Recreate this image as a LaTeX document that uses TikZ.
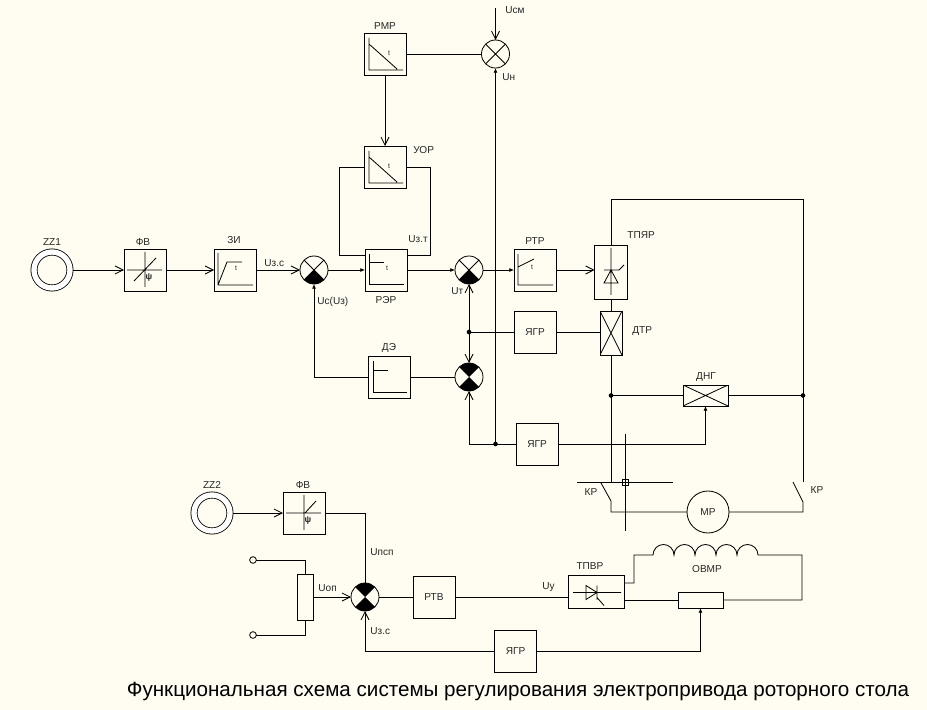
\documentclass[tikz,border=0pt]{standalone}
\usepackage{fontspec}
\setmainfont{Liberation Sans}
\usetikzlibrary{arrows.meta,positioning}
\definecolor{paper}{HTML}{FFFDF2}
\tikzset{
  inbox/.style={shift={(path picture bounding box.center)}},
  smalltxt/.style={font=\fontsize{6}{7}\selectfont,inner sep=0pt},
  lbl/.style={font=\fontsize{8.6}{10}\selectfont,inner sep=0pt,text=black!85},
  unitbox/.style={draw,minimum width=1.26cm,minimum height=1.26cm,inner sep=0pt,outer sep=0pt,
      font=\fontsize{8.6}{10}\selectfont,text=black!85},
  sumnode/.style={circle,draw,minimum size=0.84cm,inner sep=0pt,outer sep=0pt,path picture={
      \draw (path picture bounding box.north west) -- (path picture bounding box.south east)
            (path picture bounding box.north east) -- (path picture bounding box.south west);}},
  sumlow/.style={circle,draw,minimum size=0.84cm,inner sep=0pt,outer sep=0pt,path picture={
      \draw (path picture bounding box.north west) -- (path picture bounding box.south east)
            (path picture bounding box.north east) -- (path picture bounding box.south west);
      \fill (path picture bounding box.center) -- (path picture bounding box.south west)
            -- (path picture bounding box.south east) -- cycle;}},
  sumboth/.style={circle,draw,minimum size=0.84cm,inner sep=0pt,outer sep=0pt,path picture={
      \fill (path picture bounding box.center) -- (path picture bounding box.south west)
            -- (path picture bounding box.south east) -- cycle;
      \fill (path picture bounding box.center) -- (path picture bounding box.north west)
            -- (path picture bounding box.north east) -- cycle;}},
  setter/.style={circle,draw,double,double distance=0.16cm,minimum size=1.08cm,inner sep=0pt,outer sep=0.1cm},
  crossbox/.style={draw,inner sep=0pt,outer sep=0pt,path picture={
      \draw (path picture bounding box.north west) -- (path picture bounding box.south east)
            (path picture bounding box.north east) -- (path picture bounding box.south west);}},
  rampdown/.style={unitbox,path picture={
      \draw[inbox] (-16,-16) -- (-16,16) -- (18,16) (-16,-10) -- (12,15)
            (4,-1) node[smalltxt] (tmark) {t};}},
  rampup/.style={unitbox,path picture={
      \draw[inbox] (-17,-17) -- (-17,15) -- (18,15) (-17,15) -- (-8,-8) -- (7,-8)
            (1,-2) node[smalltxt] (tmark) {t};}},
  stepbox/.style={unitbox,path picture={
      \draw[inbox] (-17,-16) -- (-17,14) -- (18,14) (-17,-8) -- (-2,-8)
            (1,-2) node[smalltxt] (tmark) {t};}},
  delaybox/.style={unitbox,path picture={
      \draw[inbox] (-16,-16) -- (-16,15) -- (18,15) (-16,-7) -- (-1,-7);}},
  slopebox/.style={unitbox,path picture={
      \draw[inbox] (-17,-16) -- (-17,15) -- (18,15) (-17,-3) -- (-1,-11)
            (-3,-3) node[smalltxt] (tmark) {t};}},
  phasebox/.style={unitbox,path picture={
      \draw[inbox] (-18,0) -- (17,0) (0,-18) -- (0,17) (-11,11) -- (11,-12)
            (4,8) node[font=\fontsize{7.5}{8}\selectfont\bfseries,inner sep=0pt] (tmark) {ψ};}},
  halfphase/.style={unitbox,path picture={
      \draw[inbox] (-18,0) -- (17,0) (0,-18) -- (0,17) (1,0) -- (12,-12)
            (4,8) node[font=\fontsize{7.5}{8}\selectfont\bfseries,inner sep=0pt] (tmark) {ψ};}},
  sig/.style={-{Straight Barb[length=0.24cm,width=0.24cm]}},
  sigb/.style={{Straight Barb[length=0.24cm,width=0.24cm]}-{Straight Barb[length=0.24cm,width=0.24cm]}},
  sigs/.style={-{Latex[length=0.14cm,width=0.12cm]}},
  jdot/.style={circle,fill,minimum size=0.14cm,inner sep=0pt,outer sep=0pt},
  term/.style={circle,draw,minimum size=0.2cm,inner sep=0pt,outer sep=0pt}
}
\begin{document}
\begin{tikzpicture}[x=0.03cm,y=-0.03cm,line width=0.7pt]
    \useasboundingbox (0,0) rectangle (927,710);
    \fill[paper] (0,0) rectangle (927,710);

    % Speed loop blocks
    \node[setter] (zza) at (52,270) {};
    \node[phasebox] (fva) at (145,270) {};
    \node[rampup] (zi) at (235,270) {};
    \node[sumlow] (sa) at (314,270) {};
    \node[stepbox] (rer) at (386,270) {};
    \node[sumlow] (sb) at (469,270) {};
    \node[slopebox] (rtr) at (535,270) {};
    \node[delaybox] (de) at (389,377) {};
    \node[sumboth] (sc) at (469,377) {};
    \node[unitbox] (yga) at (535,332) {ЯГР};
    \node[unitbox] (ygb) at (537,444) {ЯГР};

    % Tension blocks
    \node[rampdown] (rmp) at (385,54) {};
    \node[rampdown] (uor) at (385,167) {};
    \node[sumnode] (sn) at (495.5,54) {};
    \coordinate (usm) at (495.5,8);
    \coordinate (fbl) at (339,255);
    \coordinate (fbr) at (430,255);

    % Armature circuit
    \node[draw,minimum width=0.99cm,minimum height=1.62cm,inner sep=0pt,outer sep=0pt,path picture={
        \draw[inbox] (0,-24) -- (0,23) (-7,-2) -- (8,-2) -- (13,-7)
              (0,-2) -- (-7,11) -- (7,11) -- cycle;}] (tpyar) at (611,272) {};
    \node[crossbox,minimum width=0.66cm,minimum height=1.32cm] (dtr) at (611,333) {};
    \node[crossbox,minimum width=1.35cm,minimum height=0.63cm] (dng) at (705.5,395.5) {};
    \node[circle,draw,minimum size=1.26cm,inner sep=0pt,outer sep=0pt,font=\fontsize{8.6}{10}\selectfont,text=black!85] (mr) at (708,512) {МР};
    \node[jdot] (ja) at (469,332) {};
    \node[jdot] (jb) at (495.5,444) {};
    \node[jdot] (jc) at (611,395.5) {};
    \node[jdot] (jd) at (803,395.5) {};
    \coordinate (ctop) at (803,199);
    \coordinate (kla) at (611,482);
    \coordinate (klb) at (601,483);
    \coordinate (klc) at (611,501);
    \coordinate (kra) at (803,482);
    \coordinate (krb) at (793,482);
    \coordinate (krc) at (803,502);
    \coordinate (vtop) at (625,434);
    \coordinate (vbot) at (625,531);
    \coordinate (hlef) at (577,482);
    \coordinate (hrig) at (673,482);

    % Field circuit
    \node[setter] (zzb) at (212,513) {};
    \node[halfphase] (fvb) at (304,513) {};
    \node[sumboth] (sd) at (365,597) {};
    \node[draw,minimum width=0.48cm,minimum height=1.38cm,inner sep=0pt,outer sep=0pt] (rop) at (305,597) {};
    \node[term] (tpa) at (253,560) {};
    \node[term] (tpb) at (253,635) {};
    \node[unitbox] (rtv) at (434,597) {РТВ};
    \node[draw,minimum width=1.68cm,minimum height=0.99cm,inner sep=0pt,outer sep=0pt,path picture={
        \draw[inbox] (-23,1) -- (25,1) (-10,-6) -- (-10,8) -- (1,1) -- cycle
              (1,-6) -- (1,8) (1,6) -- (8,14);}] (tpvr) at (596,591.5) {};
    \node[draw,minimum width=1.35cm,minimum height=0.48cm,inner sep=0pt,outer sep=0pt] (rh) at (700.5,600) {};
    \node[unitbox] (ygc) at (515.5,651) {ЯГР};
    \coordinate (wa) at (624,583);
    \coordinate (wb) at (634,555);
    \coordinate (wc) at (653,555);
    \coordinate (wd) at (802,600);
    \coordinate (we) at (624,600);

    % Connections, speed loop
    \draw[sig] (zza) -- (fva);
    \draw[sig] (fva) -- (zi);
    \draw[sig] (zi) -- (sa);
    \draw[sigs] (sa) -- (rer);
    \draw[sigs] (rer) -- (sb);
    \draw[sigs] (sb) -- (rtr);
    \draw[sig] (rtr) -- (rtr -| tpyar.west);
    \draw[sigb] (sb) -- (sc);
    \draw[sigs] (de) -| (sa);
    \draw (sc) -- (de);
    \draw (yga) -- (ja);
    \draw[sig] (ygb.west) -| (sc.south);

    % Connections, tension
    \draw[sig] (rmp) -- (uor);
    \draw (rmp) -- (sn);
    \draw[sig] (usm) -- (sn);
    \draw[sigs] (jb) -- (sn);
    \draw (uor.west) -| (fbl) -- (fbl -| rer.west);
    \draw (uor.east) -| (fbr) -- (fbr -| rer.east);

    % Connections, armature circuit
    \draw (tpyar.north) |- (ctop) -- (kra);
    \draw (tpyar) -- (dtr);
    \draw (dtr) -- (kla);
    \draw (yga) -- (yga -| dtr.west);
    \draw (jc) -- (dng);
    \draw (dng) -- (jd);
    \draw[sigs] (ygb.east) -| (dng.south);
    \draw (klb) -- (klc) |- (mr.west);
    \draw (mr.east) -| (krc) -- (krb);
    \draw (vtop) -- (vbot);
    \draw (hlef) -- (hrig);
    \node[draw,minimum size=0.18cm,inner sep=0pt,outer sep=0pt] (kmark) at (625,482) {};

    % Connections, field circuit
    \draw[sig] (zzb) -- (fvb);
    \draw (fvb) -| (sd);
    \draw (tpa) -| (rop);
    \draw (tpb) -| (rop);
    \draw[sig] (rop) -- (sd);
    \draw (sd) -- (rtv);
    \draw (rtv) -- (rtv -| tpvr.west);
    \draw[sig] (ygc.west) -| (sd.south);
    \draw[sigs] (ygc.east) -| (rh.south);
    \draw (we) -- (rh);
    \draw (wa) -| (wb) -- (wc)
        \foreach \i in {1,...,5} {arc[start angle=180,end angle=0,radius=0.315cm]}
        -| (wd) -- (rh);

    % Labels
    \node[lbl] (lzza) at (52,242) {ZZ1};
    \node[lbl] (lfva) at (143,242) {ФВ};
    \node[lbl] (lzi) at (234,240) {ЗИ};
    \node[lbl,anchor=west] (lusc) at (264,263) {Uз.с};
    \node[lbl,anchor=west] (luq) at (317,302) {Uс(Uз)};
    \node[lbl] (lrer) at (386,300) {РЭР};
    \node[lbl,anchor=west] (lust) at (408,239) {Uз.т};
    \node[lbl,anchor=west] (lut) at (451,291) {Uт};
    \node[lbl] (lde) at (389,348) {ДЭ};
    \node[lbl] (lrtr) at (535,241) {РТР};
    \node[lbl] (lrmp) at (385,26) {РМР};
    \node[lbl,anchor=west] (luor) at (413,150) {УОР};
    \node[lbl,anchor=west] (lusm) at (505,10) {Uсм};
    \node[lbl,anchor=west] (lun) at (502,77) {Uн};
    \node[lbl,anchor=west] (ltpyar) at (627,235) {ТПЯР};
    \node[lbl,anchor=west] (ldtr) at (632,331) {ДТР};
    \node[lbl] (ldng) at (706,377) {ДНГ};
    \node[lbl] (lkra) at (591,492) {КР};
    \node[lbl] (lkrb) at (817,490) {КР};
    \node[lbl] (lzzb) at (212,485) {ZZ2};
    \node[lbl] (lfvb) at (303,485) {ФВ};
    \node[lbl,anchor=west] (lusp) at (370,552) {Uпсп};
    \node[lbl,anchor=west] (luop) at (318,588) {Uоп};
    \node[lbl,anchor=west] (lusd) at (370,631) {Uз.с};
    \node[lbl,anchor=west] (luy) at (542,587) {Uу};
    \node[lbl] (ltpvr) at (590,566) {ТПВР};
    \node[lbl] (lovmr) at (707,569) {ОВМР};
    \node[font=\fontsize{17.6}{20}\selectfont,inner sep=0pt] (title) at (518,691)
        {Функциональная схема системы регулирования электропривода роторного стола};
\end{tikzpicture}
\end{document}
